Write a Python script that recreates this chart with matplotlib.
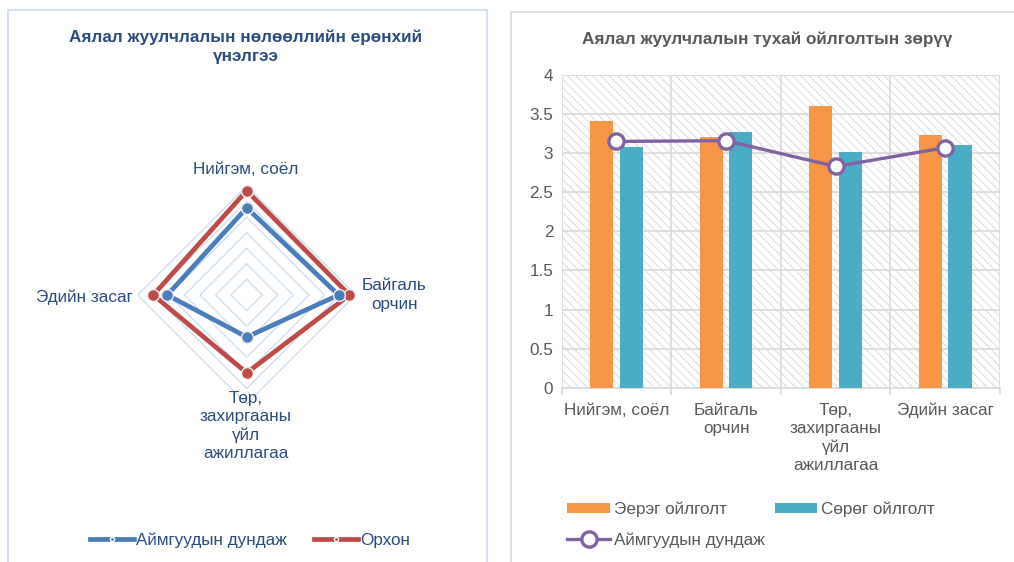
import matplotlib
matplotlib.use("Agg")
import matplotlib.pyplot as plt
import numpy as np
from matplotlib.patches import Rectangle
from matplotlib.lines import Line2D

plt.rcParams['font.family'] = ['Liberation Sans', 'DejaVu Sans']
plt.rcParams['hatch.linewidth'] = 0.6

# radar data
radar_cats = ['Нийгэм, соёл', 'Байгаль\nорчин', 'Төр,\nзахиргааны\nүйл\nажиллагаа', 'Эдийн засаг']
radar_avg = [3.06, 3.09, 2.77, 3.01]
radar_orkhon = [3.17, 3.16, 3.00, 3.10]
radar_rings = [2.6, 2.7, 2.8, 2.9, 3.0, 3.1, 3.2]

# bar chart data
bar_cats = ['Нийгэм, соёл', 'Байгаль\nорчин', 'Төр,\nзахиргааны\nүйл\nажиллагаа', 'Эдийн засаг']
positive = [3.41, 3.21, 3.60, 3.23]
negative = [3.08, 3.27, 3.02, 3.10]
avg_line = [3.15, 3.16, 2.83, 3.07]
yticks = [0, 0.5, 1, 1.5, 2, 2.5, 3, 3.5, 4]

W, H = 1014, 562
FS = 12.3
fig = plt.figure(figsize=(W / 100, H / 100), dpi=100)


def fx(x):
    return x / W


def fy(y):
    return 1 - y / H


# panel borders
fig.add_artist(Rectangle((fx(8), fy(575)), fx(479), 565 / H, transform=fig.transFigure,
                         fill=False, edgecolor='#c9daf0', lw=1.2))
fig.add_artist(Line2D([fx(511), fx(511), 1], [0, fy(12), fy(12)], transform=fig.transFigure,
                      color='#d9d9d9', lw=1.2))

# ---------- radar ----------
blue = '#4a7ebb'
red = '#be4b48'
navy = '#2b4c7e'
cx, cy, R = 246.7, 295, 109
ax1 = fig.add_axes([fx(cx - R), fy(cy + R), 2 * R / W, 2 * R / H], projection='polar')
ax1.set_theta_zero_location('N')
ax1.set_theta_direction(-1)
ax1.set_ylim(2.5, 3.2)
ax1.grid(False)
ax1.set_xticks([])
ax1.set_yticks([])
ax1.spines['polar'].set_visible(False)
ax1.patch.set_alpha(0)

ang = np.linspace(0, 2 * np.pi, len(radar_cats), endpoint=False)
ang_c = np.append(ang, ang[0])
for r in radar_rings:
    ax1.plot(ang_c, [r] * len(ang_c), color='#c6d9f1', lw=0.8, zorder=1)

for vals, col, z in [(radar_orkhon, red, 3), (radar_avg, blue, 4)]:
    v = np.append(vals, vals[0])
    ax1.plot(ang_c, v, color=col, lw=3.4, marker='o', ms=8.5, mfc=col, mec='#eeeeee',
             mew=1, clip_on=False, zorder=z)

tk = dict(color=navy, fontsize=FS, linespacing=1.25)
fig.text(fx(246), fy(170), radar_cats[0], ha='center', va='center', **tk)
fig.text(fx(362), fy(295), radar_cats[1], ha='left', va='center', multialignment='center', **tk)
fig.text(fx(246), fy(391), radar_cats[2], ha='center', va='top', multialignment='center', **tk)
fig.text(fx(133), fy(297), radar_cats[3], ha='right', va='center', **tk)

fig.text(fx(246), fy(37), 'Аялал жуулчлалын нөлөөллийн ерөнхий', ha='center', va='center',
         fontsize=FS, fontweight='bold', color=navy)
fig.text(fx(246), fy(56), 'үнэлгээ', ha='center', va='center',
         fontsize=FS, fontweight='bold', color=navy)

h1 = [Line2D([], [], color=blue, lw=3.4, marker='o', ms=3, mfc=blue, mec='white'),
      Line2D([], [], color=red, lw=3.4, marker='o', ms=3, mfc=red, mec='white')]
fig.legend(h1, ['Аймгуудын дундаж', 'Орхон'], loc='center', bbox_to_anchor=(fx(250), fy(540)),
           ncol=2, frameon=False, fontsize=FS, labelcolor=navy, handlelength=2.6,
           handletextpad=0.1, columnspacing=1.6)

# ---------- bar chart ----------
gray = '#595959'
ax2 = fig.add_axes([fx(561.7), fy(387.7), (1000 - 561.7) / W, (387.7 - 75) / H])
x = np.arange(len(bar_cats))
ax2.add_patch(Rectangle((0, 0), 1, 1, transform=ax2.transAxes, facecolor='white',
                        edgecolor='#d6d6d6', hatch='\\\\\\\\', lw=0, zorder=0))
ax2.bar(x - 0.135, positive, width=0.21, color='#f79646', zorder=3, label='Эерэг ойлголт')
ax2.bar(x + 0.135, negative, width=0.21, color='#4bacc6', zorder=3, label='Сөрөг ойлголт')
ax2.plot(x, avg_line, color='#8064a2', lw=2.4, marker='o', ms=11, mfc='white', mec='#8064a2',
         mew=2.4, zorder=4, label='Аймгуудын дундаж')

ax2.set_xlim(-0.5, len(bar_cats) - 0.5)
ax2.set_ylim(0, 4)
ax2.set_yticks(yticks)
ax2.set_yticklabels([f'{t:g}' for t in yticks])
ax2.set_xticks(np.arange(len(bar_cats) + 1) - 0.5, minor=False)
ax2.set_xticklabels([])
ax2.set_xticks(x, minor=True)
ax2.set_xticklabels(bar_cats, minor=True, linespacing=1.25)
ax2.tick_params(axis='x', which='minor', length=0, pad=11, labelsize=FS, labelcolor=gray)
ax2.tick_params(axis='x', which='major', length=5, color='#d9d9d9', width=1.2)
ax2.tick_params(axis='y', length=0, pad=6, labelsize=FS, labelcolor=gray)
ax2.grid(True, which='major', color='#d9d9d9', lw=1.2, zorder=1)
ax2.set_axisbelow(True)
for s in ['top', 'right', 'left']:
    ax2.spines[s].set_visible(False)
ax2.spines['bottom'].set_color('#d9d9d9')
ax2.spines['bottom'].set_linewidth(1.2)

fig.text(fx(767), fy(39), 'Аялал жуулчлалын тухай ойлголтын зөрүү', ha='center', va='center',
         fontsize=FS, fontweight='bold', color=gray)

hs, ls = ax2.get_legend_handles_labels()
order = [1, 0, 2]
fig.legend([hs[i] for i in order], [ls[i] for i in order], loc='upper left',
           bbox_to_anchor=(fx(552), fy(486)), ncol=2, frameon=False, fontsize=FS,
           labelcolor=gray, handlelength=2.5, handleheight=0.5, handletextpad=0.2,
           columnspacing=0.6, labelspacing=0.9)

fig.savefig('out.png', dpi=100)
